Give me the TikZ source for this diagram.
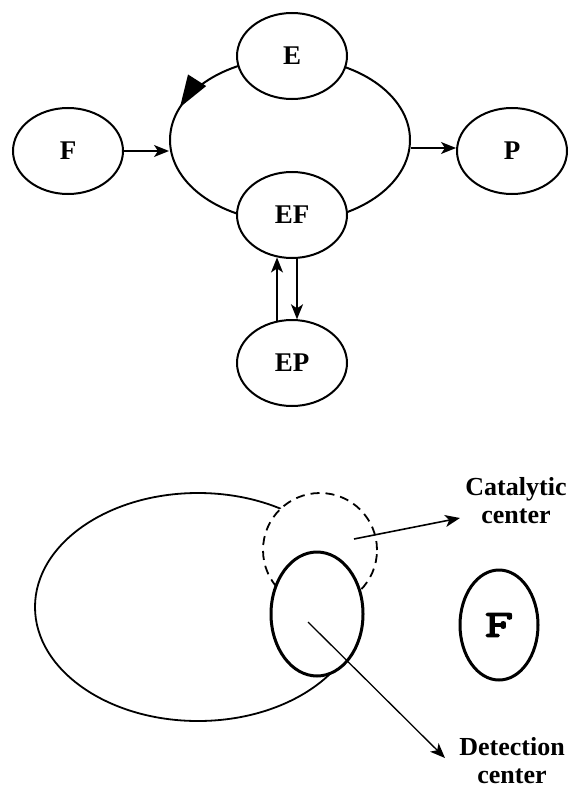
\documentclass[tikz,border=0pt]{standalone}
\usepackage{fontspec}
\setmainfont{Liberation Serif}
\newfontfamily\monof[FakeBold=4,FakeStretch=1.45]{Latin Modern Mono}
\usetikzlibrary{shapes.geometric,arrows.meta,calc}
\begin{document}
\begin{tikzpicture}[x=1pt,y=-1pt,
  stnode/.style={ellipse,draw,line width=2pt,fill=white,inner sep=0pt,
    minimum width=110pt,minimum height=86pt,font=\fontsize{27}{28}\selectfont\bfseries},
  conn/.style={line width=1.6pt,-{Stealth[length=15pt,width=12pt,inset=4pt]}},
  lbl/.style={anchor=north,align=center,inner sep=0pt,font=\fontsize{26}{28}\selectfont\bfseries}]
\useasboundingbox (0,0) rectangle (569,789);
% top cycle
\node[ellipse,draw,line width=2pt,inner sep=0pt,minimum width=240pt,minimum height=164pt] (loop) at (290,140) {};
\coordinate (arrstart) at (200.8,85.1);
\draw[line width=2pt,-{Triangle[length=32pt,width=21pt]}] (arrstart) arc[start angle=222,end angle=203.5,x radius=120,y radius=82];
\node[stnode] (E) at (292,56) {E};
\node[stnode] (F) at (68,151) {F};
\node[stnode] (P) at (512,151) {P};
\node[stnode] (EF) at (292,215) {EF};
\node[stnode] (EP) at (292,363) {EP};
\draw[conn] (F.east) -- (F.east -| loop.west);
\draw[conn] (loop.east |- 0,148) -- (P.west |- 0,148);
\draw[conn] ($(EP.north)+(-15,1.5)$) -- ($(EF.south)+(-15,-1.5)$);
\draw[conn] ($(EF.south)+(5,0)$) -- ($(EP.north)+(5,0.3)$);
% bottom part
\node[ellipse,draw,line width=1.8pt,inner sep=0pt,minimum width=326pt,minimum height=228pt] (body) at (198,607) {};
\node[circle,draw,dashed,dash pattern=on 9pt off 6pt,line width=1.8pt,fill=white,inner sep=0pt,minimum size=114pt] (cc) at (320,550) {};
\node[ellipse,draw,line width=3pt,fill=white,inner sep=0pt,minimum width=92pt,minimum height=124pt] (dc) at (317,614) {};
\node[ellipse,draw,line width=3pt,inner sep=0pt,minimum width=78pt,minimum height=110pt,font=\monof\fontsize{38}{38}\selectfont] (F2) at (499,625) {F};
\node[lbl] (cat) at (516,477) {Catalytic\\center};
\node[lbl] (det) at (512,737) {Detection\\center};
\coordinate (c1) at (354,539);
\coordinate (c2) at (460,518);
\coordinate (d1) at (308,622);
\coordinate (d2) at (445,758);
\draw[conn] (c1) -- (c2);
\draw[conn,line width=1.3pt] (d1) -- (d2);
\end{tikzpicture}
\end{document}
